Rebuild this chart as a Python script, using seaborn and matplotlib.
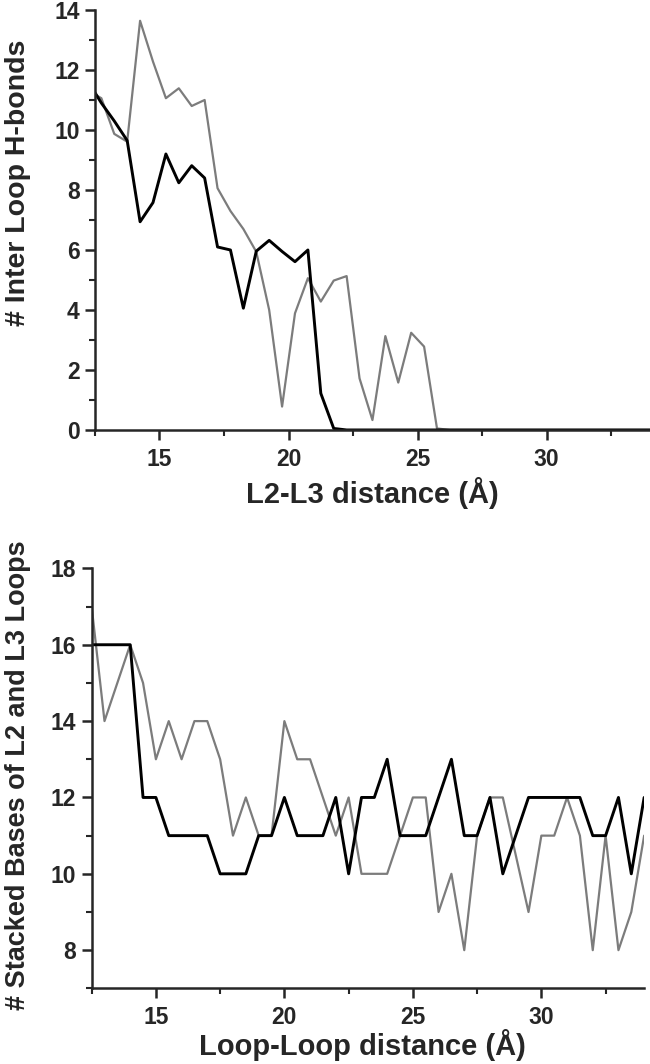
import numpy as np
import pandas as pd
import matplotlib
matplotlib.use('Agg')
import matplotlib.pyplot as plt
from matplotlib.ticker import MultipleLocator
import seaborn as sns

# top panel: inter-loop H-bonds vs L2-L3 distance (0.5 A bins, centred on .25/.75)
hb_dist = [12.25, 12.75, 13.25, 13.75, 14.25, 14.75, 15.25, 15.75, 16.25, 16.75,
           17.25, 17.75, 18.25, 18.75, 19.25, 19.75, 20.25, 20.75, 21.25, 21.75,
           22.25, 22.75, 23.25, 23.75, 24.25, 24.75, 25.25, 25.75, 26.25, 26.75,
           27.25, 27.75, 28.25, 28.75, 29.25, 29.75, 30.25, 30.75, 31.25, 31.75,
           32.25, 32.75, 33.25, 33.75, 34.25]
hb_black = [11.6, 10.9, 10.3, 9.65, 6.94, 7.58, 9.2, 8.24, 8.81, 8.4,
            6.1, 6.0, 4.06, 5.96, 6.32, 5.95, 5.61, 6.0, 1.22, 0.05,
            0, 0, 0, 0, 0, 0, 0, 0, 0, 0,
            0, 0, 0, 0, 0, 0, 0, 0, 0, 0,
            0, 0, 0, 0, 0]
hb_gray = [11.3, 11.06, 9.87, 9.61, 13.64, 12.28, 11.06, 11.39, 10.8, 11.0,
           8.06, 7.3, 6.7, 5.94, 4.0, 0.78, 3.89, 5.06, 4.28, 4.98,
           5.13, 1.72, 0.33, 3.13, 1.58, 3.24, 2.78, 0.05, 0, 0,
           0, 0, 0, 0, 0, 0, 0, 0, 0, 0,
           0, 0, 0, 0, 0]

# bottom panel: stacked bases vs loop-loop distance
st_dist = [12.5, 13.0, 13.5, 14.0, 14.5, 15.0, 15.5, 16.0, 16.5, 17.0,
           17.5, 18.0, 18.5, 19.0, 19.5, 20.0, 20.5, 21.0, 21.5, 22.0,
           22.5, 23.0, 23.5, 24.0, 24.5, 25.0, 25.5, 26.0, 26.5, 27.0,
           27.5, 28.0, 28.5, 29.0, 29.5, 30.0, 30.5, 31.0, 31.5, 32.0,
           32.5, 33.0, 33.5, 34.0]
st_black = [16, 16, 16, 16, 12, 12, 11, 11, 11, 11,
            10, 10, 10, 11, 11, 12, 11, 11, 11, 12,
            10, 12, 12, 13, 11, 11, 11, 12, 13, 11,
            11, 12, 10, 11, 12, 12, 12, 12, 12, 11,
            11, 12, 10, 12]
st_gray = [17, 14, 15, 16, 15, 13, 14, 13, 14, 14,
           13, 11, 12, 11, 11, 14, 13, 13, 12, 11,
           12, 10, 10, 10, 11, 12, 12, 9, 10, 8,
           11, 12, 12, 10.5, 9, 11, 11, 12, 11, 8,
           11, 8, 9, 11]

sns.set_style('ticks')
plt.rcParams['font.family'] = ['Liberation Sans', 'DejaVu Sans']
plt.rcParams['font.weight'] = 'bold'

BLACK = '#000000'
GRAY = '#7c7c7c'

fig = plt.figure(figsize=(6.5, 10.64), dpi=100)
ax1 = fig.add_axes([0.146, 0.5959, 0.854, 0.3947])
ax2 = fig.add_axes([0.141, 0.0711, 0.850, 0.3947])

df_hb = pd.DataFrame({'dist': hb_dist, 'black': hb_black, 'gray': hb_gray})
df_st = pd.DataFrame({'dist': st_dist, 'black': st_black, 'gray': st_gray})

sns.lineplot(data=df_hb, x='dist', y='gray', ax=ax1, color=GRAY, lw=1.6, zorder=1)
sns.lineplot(data=df_hb, x='dist', y='black', ax=ax1, color=BLACK, lw=2.1, zorder=2)
sns.lineplot(data=df_st, x='dist', y='gray', ax=ax2, color=GRAY, lw=1.6, zorder=1)
sns.lineplot(data=df_st, x='dist', y='black', ax=ax2, color=BLACK, lw=2.1, zorder=2)

ax1.set_xlim(12.5, 34)
ax1.set_ylim(0, 14)
ax1.yaxis.set_major_locator(MultipleLocator(2))
ax1.yaxis.set_minor_locator(MultipleLocator(1))

ax2.set_xlim(12.5, 34)
ax2.set_ylim(7, 18)
ax2.set_yticks([8, 10, 12, 14, 16, 18])
ax2.yaxis.set_minor_locator(MultipleLocator(1))

for ax in (ax1, ax2):
    ax.set_xticks([15, 20, 25, 30])
    ax.xaxis.set_minor_locator(MultipleLocator(2.5))
    sns.despine(ax=ax)
    for s in ('left', 'bottom'):
        ax.spines[s].set_linewidth(1.8)
        ax.spines[s].set_zorder(3)
    ax.tick_params(which='major', length=7, width=1.8, labelsize=16.5, pad=4)
    ax.tick_params(which='minor', length=4.5, width=1.5)
    ax.tick_params(axis='x', which='major', pad=6)
    for lab in ax.get_xticklabels() + ax.get_yticklabels():
        lab.set_fontweight('bold')

ax1.set_xlabel('L2-L3 distance (Å)', fontsize=21, fontweight='bold', va='center')
ax1.set_ylabel('# Inter Loop H-bonds', fontsize=20.5, fontweight='bold', va='center')
ax1.xaxis.set_label_coords(0.5, -0.15)
ax1.yaxis.set_label_coords(-0.139, 0.588)

ax2.set_xlabel('Loop-Loop distance (Å)', fontsize=21, fontweight='bold', va='center')
ax2.set_ylabel('# Stacked Bases of L2 and L3 Loops', fontsize=19.5, fontweight='bold', va='center')
ax2.xaxis.set_label_coords(0.49, -0.136)
ax2.yaxis.set_label_coords(-0.133, 0.508)

plt.savefig('out.png', dpi=100)
